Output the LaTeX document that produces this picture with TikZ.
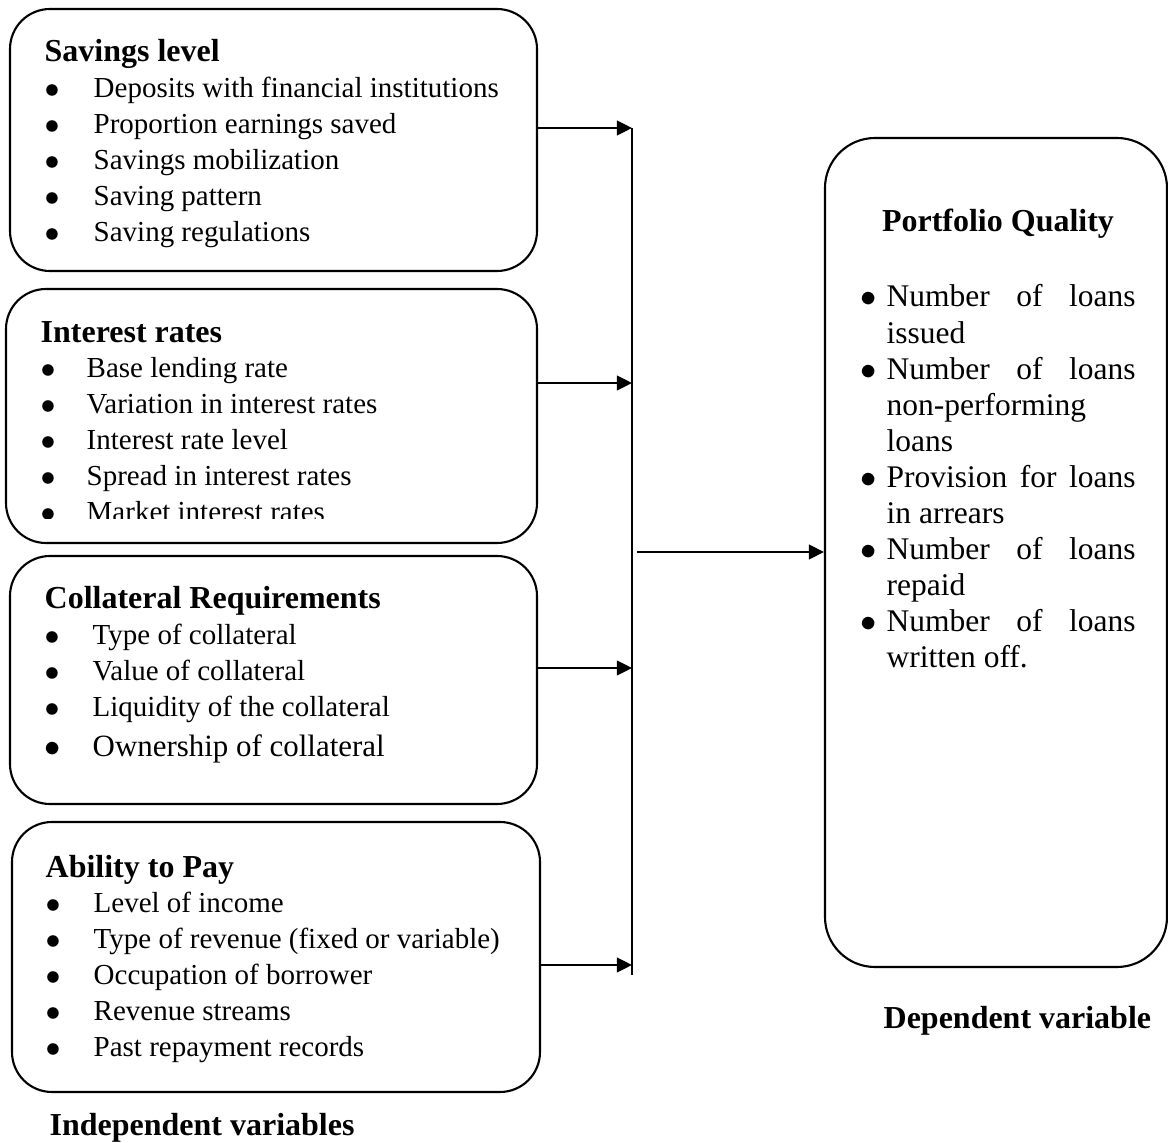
\documentclass[tikz,border=0pt]{standalone}
\usepackage{fontspec}
\setmainfont{Liberation Serif}
\usetikzlibrary{arrows.meta}
\newcommand{\bodyfs}{\fontsize{8.25}{10.24}\selectfont}
\newcommand{\headfs}{\fontsize{9.1}{10.24}\selectfont\bfseries}
\newcommand{\rightfs}{\fontsize{8.96}{10.27}\selectfont}
\newcommand{\hd}[1]{\multicolumn{2}{@{}l@{}}{\headfs #1}}
\newcommand{\jline}[1]{\makebox[2.49cm][s]{#1}}
\newcommand{\bul}{$\bullet$}

\begin{document}
\begin{tikzpicture}[x=1cm, y=1cm,
  varbox/.style={draw, line width=0.6pt, rounded corners=0.4cm, inner sep=0},
  listtext/.style={anchor=base west, inner sep=0, font=\bodyfs},
  arr/.style={line width=0.6pt, -{Triangle[length=4.3pt, width=4.2pt]}}]
  \useasboundingbox (0,0) rectangle (11.68,11.42);

  % independent variable boxes
  \node[varbox, minimum width=5.27cm, minimum height=2.62cm] (savbox) at (2.735,10.02) {};
  \node[varbox, minimum width=5.31cm, minimum height=2.54cm] (intbox) at (2.715,7.26) {};
  \node[varbox, minimum width=5.27cm, minimum height=2.48cm] (colbox) at (2.735,4.62) {};
  \node[varbox, minimum width=5.28cm, minimum height=2.70cm] (paybox) at (2.76,1.85) {};

  % savings level
  \node[listtext] (savtxt) at (0.44,10.80) {\begin{tabular}[t]{@{}p{0.49cm}@{}l@{}}
    \hd{Savings level}\\
    \bul & Deposits with financial institutions\\
    \bul & Proportion earnings saved\\
    \bul & Savings mobilization\\
    \bul & Saving pattern\\
    \bul & Saving regulations
  \end{tabular}};

  % interest rates (last line cut by the box)
  \begin{scope}
    \clip (0,6.23) rectangle (5.37,8.53);
    \node[listtext] (inttxt) at (0.40,8.00) {\begin{tabular}[t]{@{}p{0.46cm}@{}l@{}}
      \hd{Interest rates}\\
      \bul & Base lending rate\\
      \bul & Variation in interest rates\\
      \bul & Interest rate level\\
      \bul & Spread in interest rates\\
      \bul & Market interest rates
    \end{tabular}};
  \end{scope}

  % collateral
  \node[listtext] (coltxt) at (0.44,5.33) {\begin{tabular}[t]{@{}p{0.48cm}@{}l@{}}
    \hd{Collateral Requirements}\\
    \bul & Type of collateral\\
    \bul & Value of collateral\\
    \bul & Liquidity of the collateral\\[0.04cm]
    {\fontsize{8.8}{10.24}\selectfont\bul} & {\fontsize{8.8}{10.24}\selectfont Ownership of collateral}
  \end{tabular}};

  % ability to pay
  \node[listtext] (paytxt) at (0.45,2.65) {\begin{tabular}[t]{@{}p{0.48cm}@{}l@{}}
    \hd{Ability to Pay}\\
    \bul & Level of income\\
    \bul & Type of revenue (fixed or variable)\\
    \bul & Occupation of borrower\\
    \bul & Revenue streams\\
    \bul & Past repayment records
  \end{tabular}};

  \node[anchor=base west, inner sep=0, font=\headfs] (indlab) at (0.49,0.07) {Independent variables};

  % dependent variable box
  \node[varbox, rounded corners=0.5cm, minimum width=3.42cm, minimum height=8.29cm] (pqbox) at (9.96,5.895) {};
  \node[anchor=base, inner sep=0, font=\headfs] (pqhead) at (9.98,9.10) {Portfolio Quality};
  \node[listtext, font=\rightfs] (pqtxt) at (8.60,8.35) {\begin{tabular}[t]{@{}p{0.26cm}@{}l@{}}
    \bul & \jline{Number of loans}\\
    & issued\\
    \bul & \jline{Number of loans}\\
    & non-performing\\
    & loans\\
    \bul & \jline{Provision for loans}\\
    & in arrears\\
    \bul & \jline{Number of loans}\\
    & repaid\\
    \bul & \jline{Number of loans}\\
    & written off.
  \end{tabular}};
  \node[anchor=base west, inner sep=0, font=\headfs] (deplab) at (8.83,1.14) {Dependent variable};

  % bus line and arrows
  \coordinate (bus1) at (6.32,10.14);
  \coordinate (bus2) at (6.32,7.59);
  \coordinate (bus3) at (6.32,4.74);
  \coordinate (bus4) at (6.32,1.77);
  \coordinate (busend) at (6.32,1.67);
  \coordinate (busmid) at (6.37,5.90);
  \draw[line width=0.6pt] (bus1) -- (busend);
  \draw[arr] (savbox.east |- bus1) -- (bus1);
  \draw[arr] (intbox.east |- bus2) -- (bus2);
  \draw[arr] (colbox.east |- bus3) -- (bus3);
  \draw[arr] (paybox.east |- bus4) -- (bus4);
  \draw[arr] (busmid) -- (pqbox.west |- busmid);
\end{tikzpicture}
\end{document}
